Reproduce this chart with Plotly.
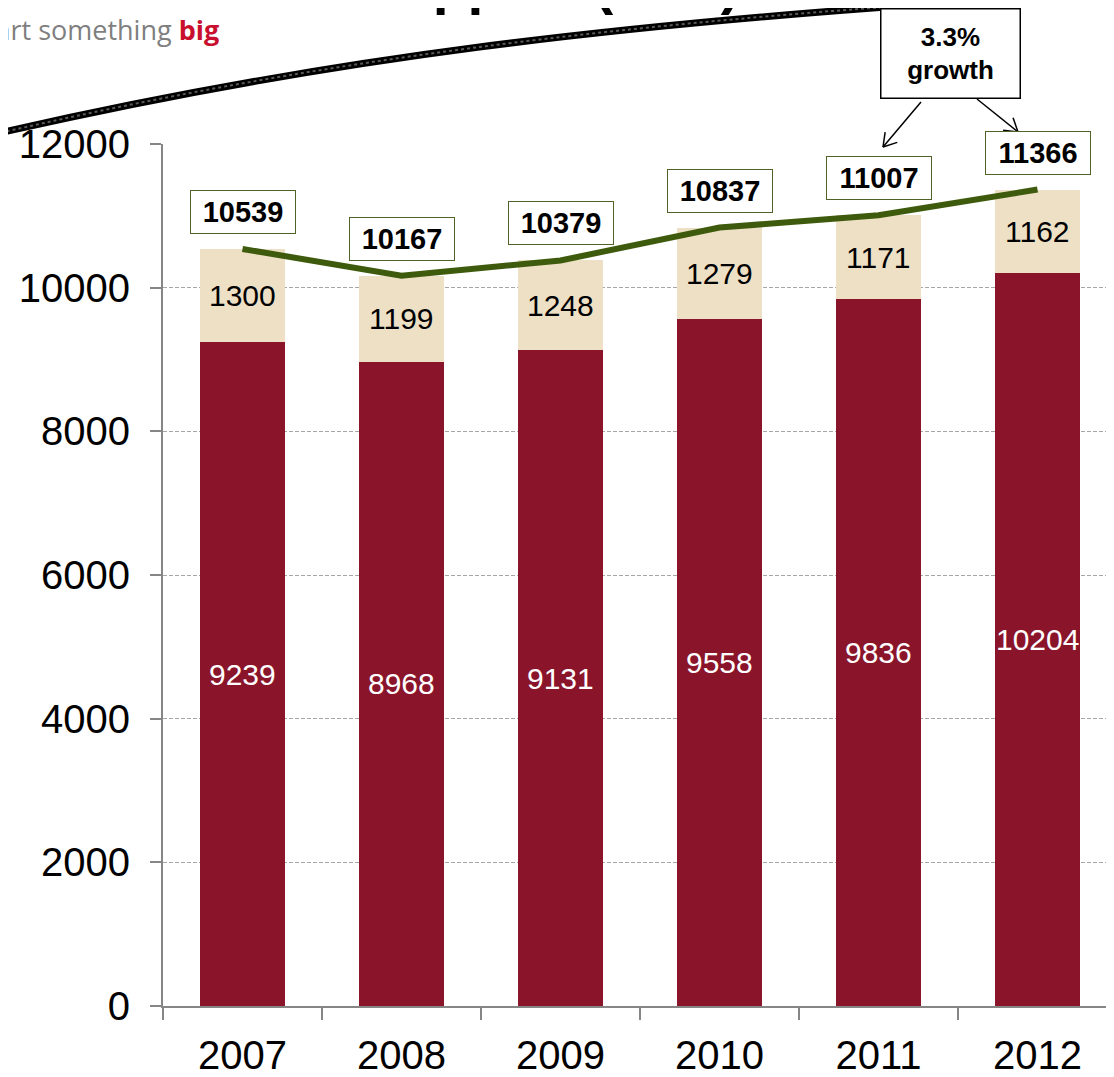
import plotly.graph_objects as go
import math

# ---- data ----
years = ["2007", "2008", "2009", "2010", "2011", "2012"]
state_fte = [9239, 8968, 9131, 9558, 9836, 10204]
self_support_fte = [1300, 1199, 1248, 1279, 1171, 1162]
totals = [10539, 10167, 10379, 10837, 11007, 11366]
y_ticks = [0, 2000, 4000, 6000, 8000, 10000, 12000]
growth_text = "3.3%<br>growth"
title_text = "State and Self-Support (FTE)"

OFF = 8  # page body margin
W, H = 1114, 1077
L, R, T, B = 155, 5, 136, 79
PW, PH = W - L - R, H - T - B

def xp(px):
    # screen pixel -> paper fraction
    return (px - OFF - L) / PW

def yp(py):
    return (H - B - (py - OFF)) / PH

DARK = "#8A152B"
LIGHT = "#EEE0C5"
GREEN = "#3E5A0C"
FONT = "Liberation Sans, Arial, sans-serif"

fig = go.Figure()
fig.add_trace(go.Bar(x=years, y=state_fte, marker=dict(color=DARK, line=dict(width=0)),
                     width=0.54, name="State", hoverinfo="skip"))
fig.add_trace(go.Bar(x=years, y=self_support_fte, marker=dict(color=LIGHT, line=dict(width=0)),
                     width=0.54, name="Self-Support", hoverinfo="skip"))
fig.add_trace(go.Scatter(x=years, y=totals, mode="lines",
                         line=dict(color=GREEN, width=6), name="Total", hoverinfo="skip"))

annotations = []
for i, (d, l, t) in enumerate(zip(state_fte, self_support_fte, totals)):
    annotations.append(dict(x=i, y=d / 2, text=str(d), showarrow=False,
                            font=dict(family=FONT, size=30, color="white")))
    annotations.append(dict(x=i, y=d + l / 2, text=str(l), showarrow=False,
                            font=dict(family=FONT, size=30, color="black")))
    annotations.append(dict(x=i, y=t, yshift=37, text="<b>%d</b>" % t, showarrow=False,
                            font=dict(family=FONT, size=29, color="black"),
                            bgcolor="white", bordercolor="#4F6228", borderwidth=1,
                            width=100, height=38, borderpad=2))

# growth callout box
annotations.append(dict(xref="paper", yref="paper", x=xp(950.5), y=yp(53.5),
                        text="<b>%s</b>" % growth_text, showarrow=False,
                        font=dict(family=FONT, size=26, color="black"),
                        bgcolor="white", bordercolor="black", borderwidth=1.5,
                        width=138, height=88, borderpad=0,
                        xanchor="center", yanchor="middle"))

# slide title (mostly cut off at the top)
annotations.append(dict(xref="paper", yref="paper", x=xp(742), y=yp(-17),
                        text="<b>%s</b>" % title_text, showarrow=False,
                        font=dict(family=FONT, size=57, color="black"),
                        xanchor="right", yanchor="middle"))
# logo tagline
annotations.append(dict(xref="paper", yref="paper", x=xp(221), y=yp(30),
                        text='<span style="color:#7F7F7F">start something </span>'
                             '<span style="color:#C8102E"><b>big</b></span>',
                        showarrow=False,
                        font=dict(family="Open Sans, sans-serif", size=27, color="#7F7F7F"),
                        xanchor="right", yanchor="middle"))

shapes = []
# swoosh decoration
def ppath(pts):
    (x0, y0), (x1, y1), (x2, y2), (x3, y3) = pts
    return "M %f,%f C %f,%f %f,%f %f,%f" % (xp(x0), yp(y0), xp(x1), yp(y1),
                                           xp(x2), yp(y2), xp(x3), yp(y3))
sw = [(-5, 134), (300, 64), (600, 20), (1125, -8)]
shapes.append(dict(type="path", xref="paper", yref="paper", path=ppath(sw),
                   line=dict(color="black", width=7), layer="above"))
shapes.append(dict(type="path", xref="paper", yref="paper", path=ppath(sw),
                   line=dict(color="#5a5a5a", width=2, dash="dot"), layer="above"))

# arrows from callout
def arrow(tail, head):
    tx, ty = tail
    hx, hy = head
    shapes.append(dict(type="line", xref="paper", yref="paper",
                       x0=xp(tx), y0=yp(ty), x1=xp(hx), y1=yp(hy),
                       line=dict(color="black", width=1.5), layer="above"))
    ang = math.atan2(ty - hy, tx - hx)
    for s in (-1, 1):
        a = ang + s * math.radians(32)
        ex, ey = hx + 15 * math.cos(a), hy + 15 * math.sin(a)
        shapes.append(dict(type="line", xref="paper", yref="paper",
                           x0=xp(hx), y0=yp(hy), x1=xp(ex), y1=yp(ey),
                           line=dict(color="black", width=1.5), layer="above"))

arrow((921, 102), (883, 147))
arrow((977, 99), (1018, 132))

fig.update_layout(
    width=W, height=H,
    margin=dict(l=L, r=R, t=T, b=B, pad=0, autoexpand=False),
    barmode="stack",
    showlegend=False,
    plot_bgcolor="white", paper_bgcolor="white",
    annotations=annotations,
    shapes=shapes,
    font=dict(family=FONT, color="black"),
)
fig.update_xaxes(type="category", range=[-0.5, 5.5], showline=True, linecolor="#868686",
                 linewidth=2, ticks="outside", tickson="boundaries", ticklen=12,
                 tickcolor="#868686", tickwidth=2, showgrid=False, automargin=False,
                 tickfont=dict(family=FONT, size=40, color="black"),
                 ticklabelstandoff=13)
fig.update_yaxes(range=[0, 12000], tickvals=y_ticks, ticktext=[str(v) for v in y_ticks],
                 showline=True, linecolor="#868686", automargin=False,
                 linewidth=2, ticks="outside", ticklen=11, tickcolor="#868686", tickwidth=2,
                 showgrid=True, gridcolor="#A6A6A6", gridwidth=1, griddash="4px,2px",
                 zeroline=False, tickfont=dict(family=FONT, size=40, color="black"),
                 ticklabelstandoff=12)

fig.write_html("out.html")
